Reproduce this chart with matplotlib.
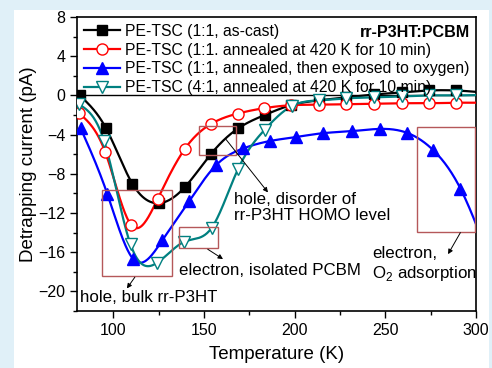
import numpy as np
import matplotlib
matplotlib.use("Agg")
import matplotlib.pyplot as plt
from matplotlib.patches import Rectangle
from matplotlib.ticker import MultipleLocator

plt.rcParams['font.family'] = ['Liberation Sans', 'DejaVu Sans']
plt.rcParams['mathtext.fontset'] = 'custom'
plt.rcParams['mathtext.rm'] = 'Liberation Sans'

# ---- data ----
x_black = [81.5, 96, 110.5, 125, 139.5, 154, 169, 183.5, 198, 213.5, 228.5, 244, 259, 274, 289, 304]
y_black = [0.0, -3.35, -9.0, -11.0, -9.35, -5.95, -3.35, -2.0, -1.0, -0.5, -0.2, 0.1, 0.3, 0.5, 0.5, 0.3]

x_red = [81, 95.5, 110, 124.5, 139.3, 154, 168.7, 183.3, 198.2, 213.5, 228.5, 244, 259, 274, 289, 304]
y_red = [-1.8, -5.75, -13.25, -10.55, -5.5, -2.9, -1.85, -1.3, -1.0, -0.95, -0.9, -0.85, -0.8, -0.8, -0.75, -0.75]

x_blue = [82, 96.8, 111, 127, 142, 156.8, 171.8, 186.5, 200.7, 215.9, 231.5, 246.9, 261.7, 276.5, 291.4, 306]
y_blue = [-3.35, -10.1, -16.7, -14.8, -10.75, -7.1, -5.4, -4.65, -4.25, -3.85, -3.65, -3.42, -3.8, -5.6, -9.5, -16.0]

x_teal = [81, 95, 109.5, 124, 139, 154.3, 168.7, 183.5, 198.3, 213.5, 228.5, 244, 259, 274, 289, 304]
y_teal = [-0.9, -4.7, -15.2, -17.1, -14.95, -13.5, -7.55, -3.5, -1.1, -0.5, -0.3, -0.2, -0.1, 0.0, 0.0, 0.05]

labels = ["PE-TSC (1:1, as-cast)",
          "PE-TSC (1:1. annealed at 420 K for 10 min)",
          "PE-TSC (1:1, annealed, then exposed to oxygen)",
          "PE-TSC (4:1, annealed at 420 K for 10 min)"]

x_ticks = [100, 150, 200, 250, 300]
y_ticks = [-20, -16, -12, -8, -4, 0, 4, 8]


def natural_spline(x, y, n=600):
    x = np.asarray(x, float)
    y = np.asarray(y, float)
    m = len(x)
    h = np.diff(x)
    A = np.zeros((m, m))
    b = np.zeros(m)
    A[0, 0] = 1
    A[-1, -1] = 1
    for i in range(1, m - 1):
        A[i, i - 1] = h[i - 1]
        A[i, i] = 2 * (h[i - 1] + h[i])
        A[i, i + 1] = h[i]
        b[i] = 6 * ((y[i + 1] - y[i]) / h[i] - (y[i] - y[i - 1]) / h[i - 1])
    M = np.linalg.solve(A, b)
    xs = np.linspace(x[0], x[-1], n)
    idx = np.clip(np.searchsorted(x, xs) - 1, 0, m - 2)
    x0, x1 = x[idx], x[idx + 1]
    hh = x1 - x0
    t0 = x1 - xs
    t1 = xs - x0
    ys = (M[idx] * t0 ** 3 / (6 * hh) + M[idx + 1] * t1 ** 3 / (6 * hh)
          + (y[idx] / hh - M[idx] * hh / 6) * t0
          + (y[idx + 1] / hh - M[idx + 1] * hh / 6) * t1)
    return xs, ys


fig = plt.figure(figsize=(4.92, 3.68), dpi=100, facecolor='#e0f0f8')
bg = Rectangle((14 / 492, 0), (489 - 14) / 492, (368 - 10) / 368,
               transform=fig.transFigure, facecolor='white', edgecolor='none', zorder=-10)
fig.patches.append(bg)
ax = fig.add_axes([77 / 492, 57 / 368, (476 - 77) / 492, (311 - 17) / 368])
ax.set_zorder(5)
ax.set_facecolor('white')

series = [
    (x_black, y_black, 'black', 's', 'black', 7),
    (x_red, y_red, '#ff0000', 'o', 'white', 8),
    (x_blue, y_blue, '#0000ff', '^', '#0000ff', 9),
    (x_teal, y_teal, '#008080', 'v', 'white', 9),
]
handles = []
for (xd, yd, c, mk, fc, ms), lab in zip(series, labels):
    xs, ys = natural_spline(xd, yd)
    ax.plot(xs, ys, color=c, lw=1.6, zorder=3)
    ax.plot(xd, yd, ls='none', marker=mk, ms=ms, mfc=fc, mec=c, mew=1.0, zorder=4)
    h, = ax.plot([], [], color=c, lw=1.6, marker=mk, ms=ms, mfc=fc, mec=c, mew=1.0)
    handles.append(h)

ax.axhline(0, color='black', lw=1.0, zorder=2)

ax.set_xlim(80, 300)
ax.set_ylim(-22, 8)
ax.set_xticks(x_ticks)
ax.set_yticks(y_ticks)
ax.xaxis.set_minor_locator(MultipleLocator(25))
ax.yaxis.set_minor_locator(MultipleLocator(2))
ax.tick_params(which='major', direction='out', length=5, width=1, labelsize=11.5,
               top=False, right=False)
ax.tick_params(which='minor', direction='out', length=3, width=1, top=False, right=False)
for s in ax.spines.values():
    s.set_linewidth(1.2)
ax.set_xlabel('Temperature (K)', fontsize=13.5, labelpad=6)
ax.set_ylabel('Detrapping current (pA)', fontsize=13.5, labelpad=1)

leg = ax.legend(handles, labels, loc='upper left', bbox_to_anchor=(0.0, 1.0),
                frameon=False, fontsize=11.3, handlelength=2.35, handletextpad=0.32,
                labelspacing=0.25, borderaxespad=0.0, borderpad=0.42)

ax.text(0.985, 0.948, 'rr-P3HT:PCBM', transform=ax.transAxes, ha='right', va='center',
        fontsize=11.6, fontweight='bold')

box_color = '#b5585a'
boxes = [(94, -18.45, 132.4, -9.7), (136, -15.6, 157.6, -13.4),
         (147.2, -6.05, 167.4, -3.1), (267.2, -13.9, 299.4, -3.23)]
for x0, y0, x1, y1 in boxes:
    ax.add_patch(Rectangle((x0, y0), x1 - x0, y1 - y0, fill=False,
                           edgecolor=box_color, lw=1.0, zorder=5))

arrows = [((111.9, -18.55), (107.5, -19.7)),
          ((152.1, -15.7), (160.5, -16.7)),
          ((162.2, -4.5), (185.3, -9.9)),
          ((291.4, -14.0), (284.6, -16.2))]
for start, end in arrows:
    ax.annotate('', xy=end, xytext=start,
                arrowprops=dict(arrowstyle='-|>', color='black', lw=0.7,
                                mutation_scale=7, shrinkA=0, shrinkB=0), zorder=6)

tfs = 12.2
ax.text(166.8, -9.9, 'hole, disorder of\nrr-P3HT HOMO level', fontsize=tfs,
        ha='left', va='top', linespacing=1.05, zorder=6)
ax.text(136, -17.9, 'electron, isolated PCBM', fontsize=tfs, ha='left', va='center', zorder=6)
ax.text(242.8, -16.1, 'electron,', fontsize=tfs, ha='left', va='center', zorder=6)
ax.text(242.8, -18.2, r'O$_2$ adsorption', fontsize=tfs, ha='left', va='center', zorder=6)
ax.text(81.5, -20.6, 'hole, bulk rr-P3HT', fontsize=tfs, ha='left', va='center', zorder=6)

fig.savefig('out.png', dpi=100, facecolor=fig.get_facecolor())
